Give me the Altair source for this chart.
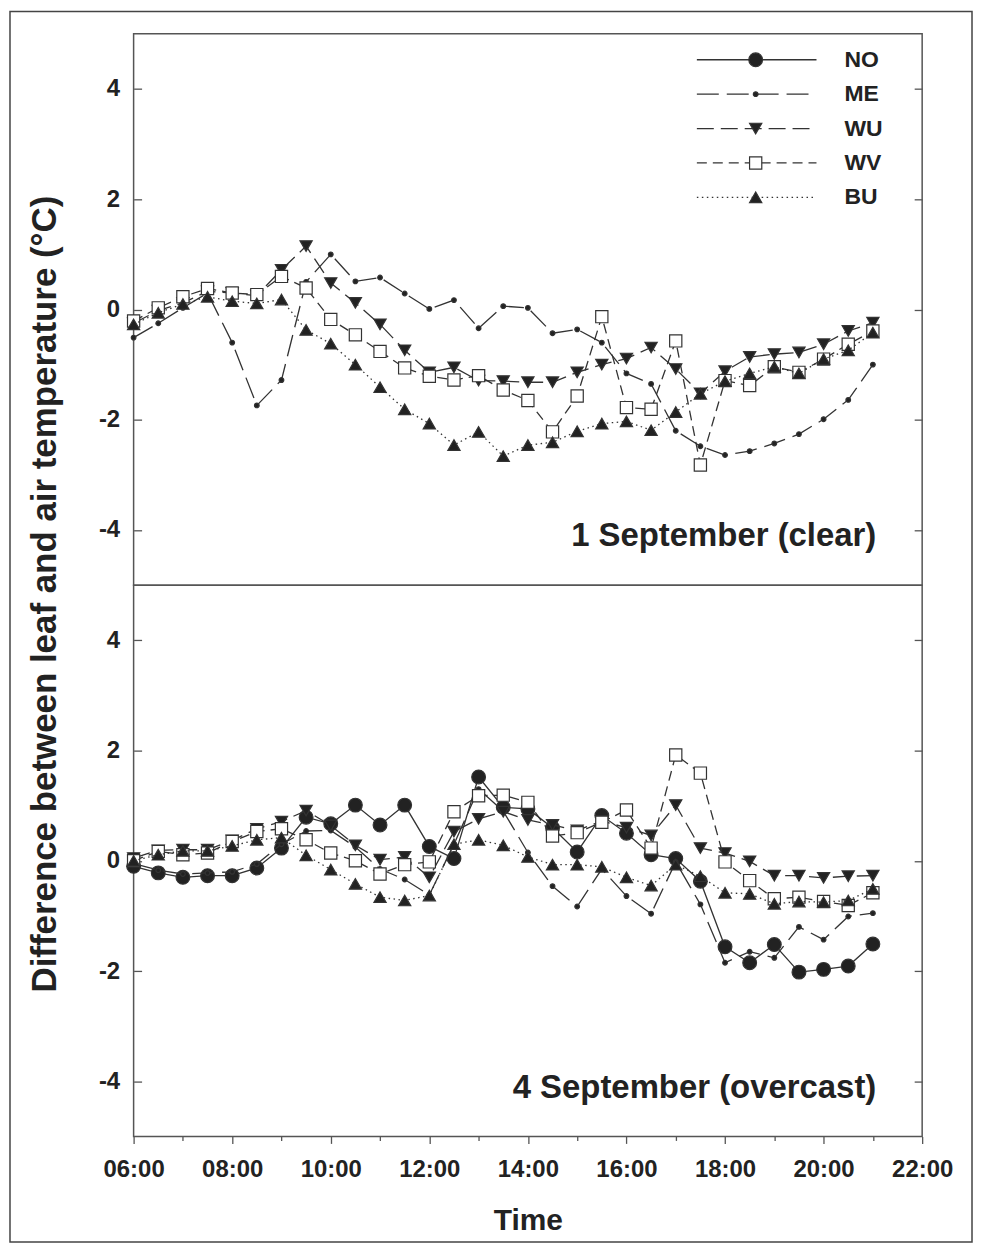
import altair as alt
import pandas as pd

TIMES = ["06:00", "06:30", "07:00", "07:30", "08:00", "08:30", "09:00", "09:30",
         "10:00", "10:30", "11:00", "11:30", "12:00", "12:30", "13:00", "13:30",
         "14:00", "14:30", "15:00", "15:30", "16:00", "16:30", "17:00", "17:30",
         "18:00", "18:30", "19:00", "19:30", "20:00", "20:30", "21:00"]

# 1 September (clear) -- NO not shown on this day
ME_1 = [-0.51, -0.25, 0.03, 0.30, -0.60, -1.74, -1.28, 0.50, 1.00, 0.51, 0.58, 0.29, 0.01, 0.17,
        -0.34, 0.06, 0.03, -0.43, -0.36, -0.60, -1.16, -1.35, -2.20, -2.48, -2.64, -2.57, -2.43,
        -2.26, -1.99, -1.64, -1.00]
WU_1 = [-0.25, -0.02, 0.12, 0.33, 0.30, 0.25, 0.72, 1.15, 0.48, 0.12, -0.27, -0.74, -1.14, -1.05,
        -1.29, -1.30, -1.32, -1.32, -1.14, -1.00, -0.89, -0.69, -1.08, -1.52, -1.12, -0.86, -0.81,
        -0.78, -0.63, -0.39, -0.24]
WV_1 = [-0.21, 0.03, 0.23, 0.38, 0.30, 0.27, 0.60, 0.39, -0.18, -0.46, -0.76, -1.06, -1.21, -1.28,
        -1.20, -1.46, -1.65, -2.22, -1.57, -0.13, -1.78, -1.81, -0.57, -2.82, -1.29, -1.38, -1.04,
        -1.14, -0.90, -0.63, -0.39]
BU_1 = [-0.27, -0.06, 0.10, 0.23, 0.15, 0.11, 0.18, -0.37, -0.62, -1.00, -1.41, -1.81, -2.07, -2.46,
        -2.22, -2.66, -2.46, -2.41, -2.21, -2.07, -2.03, -2.19, -1.86, -1.53, -1.30, -1.16, -1.04,
        -1.16, -0.90, -0.74, -0.42]

# 4 September (overcast)
NO_4 = [-0.10, -0.22, -0.30, -0.27, -0.27, -0.13, 0.23, 0.79, 0.67, 1.01, 0.65, 1.01, 0.26, 0.04,
        1.52, 0.97, 0.94, 0.60, 0.16, 0.82, 0.50, 0.11, 0.04, -0.37, -1.56, -1.85, -1.52, -2.02,
        -1.97, -1.91, -1.51]
ME_4 = [-0.05, -0.17, -0.24, -0.22, -0.20, -0.06, 0.30, 0.54, 0.55, 0.25, -0.15, -0.34, -0.62, 0.30,
        1.30, 0.90, 0.15, -0.46, -0.83, -0.15, -0.64, -0.96, -0.02, -0.79, -1.85, -1.65, -1.76,
        -1.20, -1.43, -1.01, -0.95]
WU_4 = [0.05, 0.19, 0.20, 0.20, 0.37, 0.58, 0.71, 0.91, 0.64, 0.28, 0.02, 0.07, -0.30, 0.53, 0.76,
        0.89, 0.74, 0.65, 0.55, 0.72, 0.60, 0.46, 1.01, 0.23, 0.14, -0.01, -0.27, -0.27, -0.31,
        -0.28, -0.27]
WV_4 = [0.00, 0.17, 0.11, 0.14, 0.35, 0.53, 0.58, 0.38, 0.14, 0.00, -0.24, -0.07, -0.02, 0.89, 1.18,
        1.19, 1.06, 0.45, 0.51, 0.70, 0.92, 0.23, 1.92, 1.59, -0.02, -0.36, -0.69, -0.66, -0.74,
        -0.81, -0.58]
BU_4 = [0.00, 0.11, 0.18, 0.18, 0.27, 0.38, 0.42, 0.10, -0.16, -0.42, -0.66, -0.72, -0.63, 0.30,
        0.38, 0.28, 0.07, -0.07, -0.07, -0.11, -0.30, -0.45, -0.07, -0.28, -0.58, -0.60, -0.78,
        -0.74, -0.75, -0.72, -0.51]

SERIES = ["NO", "ME", "WU", "WV", "BU"]
PANEL_1 = {"ME": ME_1, "WU": WU_1, "WV": WV_1, "BU": BU_1}
PANEL_4 = {"NO": NO_4, "ME": ME_4, "WU": WU_4, "WV": WV_4, "BU": BU_4}
LABEL_1 = "1 September (clear)"
LABEL_4 = "4 September (overcast)"
Y_TITLE = "Difference between leaf and air temperature (°C)"
X_TITLE = "Time"
X_TICKS = [6, 8, 10, 12, 14, 16, 18, 20, 22]
X_MINOR = [7, 9, 11, 13, 15, 17, 19, 21]
Y_TICKS = [-4, -2, 0, 2, 4]

FONT = "Liberation Sans"
INK = "#222222"
LINE = "#333333"

STYLE = {
    "NO": dict(shape="circle", size=190, fill=INK, dash=None),
    "ME": dict(shape="circle", size=22, fill=INK, dash=[22, 8]),
    "WU": dict(shape="triangle-down", size=150, fill=INK, dash=[17, 7]),
    "WV": dict(shape="square", size=150, fill="white", dash=[10, 6]),
    "BU": dict(shape="triangle-up", size=150, fill=INK, dash=[1.5, 3.5]),
}


def hour(t):
    h, m = t.split(":")
    return int(h) + int(m) / 60.0


def long_df(panel):
    rows = []
    for s, vals in panel.items():
        for t, v in zip(TIMES, vals):
            rows.append({"series": s, "hour": hour(t), "value": v})
    return pd.DataFrame(rows)


XS = alt.Scale(domain=[6, 22], nice=False, zero=False)
YS = alt.Scale(domain=[-5, 5], nice=False, zero=False)


def line_kw(s):
    kw = dict(color=LINE, strokeWidth=1.3)
    if STYLE[s]["dash"]:
        kw["strokeDash"] = STYLE[s]["dash"]
    return kw


def point_kw(s):
    st = STYLE[s]
    return dict(shape=st["shape"], size=st["size"], filled=True, fill=st["fill"],
                stroke=LINE, strokeWidth=1.2, opacity=1)


def make_panel(panel, label, show_x, legend):
    df = long_df(panel)
    layers = []
    first = True
    for s in SERIES:
        if s not in panel:
            continue
        d = df[df.series == s]
        if first:
            xax = alt.Axis(values=X_TICKS, labelExpr="(datum.value < 10 ? '0' : '') + datum.value + ':00'",
                           title=X_TITLE, tickSize=7, domain=False, grid=False, labelPadding=14,
                           labelFlush=False, titlePadding=24) if show_x else None
            yax = alt.Axis(values=Y_TICKS, labelExpr="'' + datum.value", title=None, tickSize=8,
                           offset=-8, domain=False, grid=False, labelPadding=14)
            first = False
        else:
            xax = None
            yax = None
        layers.append(alt.Chart(d).mark_line(**line_kw(s)).encode(
            x=alt.X("hour:Q", scale=XS, axis=xax),
            y=alt.Y("value:Q", scale=YS, axis=yax)))
        layers.append(alt.Chart(d).mark_point(**point_kw(s)).encode(
            x=alt.X("hour:Q", scale=XS, axis=None),
            y=alt.Y("value:Q", scale=YS, axis=None)))
    # right-side ticks and minor x ticks
    layers.append(alt.Chart(df).mark_point(opacity=0).encode(
        x=alt.X("hour:Q", scale=XS, axis=(alt.Axis(orient="bottom", values=X_MINOR, labels=False,
                                                   tickSize=4, domain=False, grid=False, title=None)
                                          if show_x else None)),
        y=alt.Y("value:Q", scale=YS, axis=alt.Axis(orient="right", values=Y_TICKS, labels=False,
                                                   tickSize=8, offset=-8, domain=False, grid=False,
                                                   title=None))))
    # panel label
    layers.append(alt.Chart(pd.DataFrame({"t": [label]})).mark_text(
        align="right", baseline="alphabetic", fontSize=33, fontWeight="bold", font=FONT,
        color=INK).encode(text="t:N", x=alt.value(745), y=alt.value(514)))
    if legend:
        for i, s in enumerate(SERIES):
            yy = 26 + 34.5 * i
            one = pd.DataFrame({"series": [s]})
            layers.append(alt.Chart(one).mark_rule(**line_kw(s)).encode(
                x=alt.value(565), x2=alt.value(685), y=alt.value(yy)))
            layers.append(alt.Chart(one).mark_point(**point_kw(s)).encode(
                x=alt.value(624), y=alt.value(yy)))
            layers.append(alt.Chart(one).mark_text(
                align="left", baseline="middle", fontSize=23, fontWeight="bold", font=FONT,
                color=INK).encode(text="series:N", x=alt.value(713), y=alt.value(yy)))
        # shared y-axis title, centred across both panels
        layers.append(alt.Chart(pd.DataFrame({"t": [Y_TITLE]})).mark_text(
            angle=270, align="center", baseline="middle", fontSize=35, fontWeight="bold",
            font=FONT, color=INK).encode(text="t:N", x=alt.value(-89), y=alt.value(562)))
        # thin frame around the whole figure
        layers.append(alt.Chart(pd.DataFrame({"f": [1]})).mark_rect(
            fillOpacity=0, stroke="#444444", strokeWidth=1.5).encode(
            x=alt.value(-124), x2=alt.value(841), y=alt.value(-22.5), y2=alt.value(1212)))
    return alt.layer(*layers).resolve_axis(x="independent", y="independent").properties(
        width=791, height=553)


top = make_panel(PANEL_1, LABEL_1, False, True)
bottom = make_panel(PANEL_4, LABEL_4, True, False)

chart = alt.vconcat(top, bottom, spacing=0, bounds="flush").properties(
    padding={"left": 0, "top": 0, "right": 0, "bottom": 0},
).configure_view(stroke="#555555", strokeWidth=1.5).configure_axis(
    labelFont=FONT, labelFontSize=24, labelFontWeight="bold", labelColor=INK,
    titleFont=FONT, titleFontSize=30, titleFontWeight="bold", titleColor=INK,
    tickColor="#555555", tickWidth=1.3
)

chart.save("out.html", embed_options={"renderer": "svg", "actions": False})
